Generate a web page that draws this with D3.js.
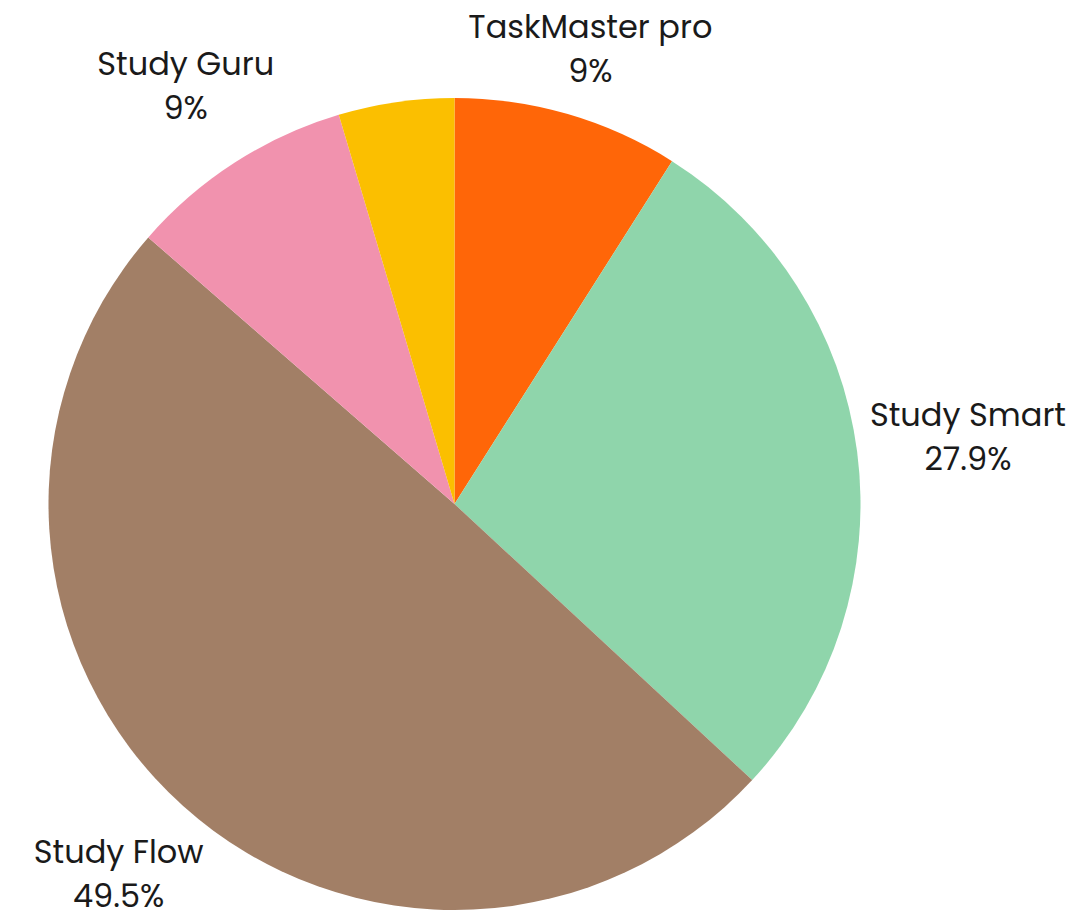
<!DOCTYPE html>
<html>
<head>
<meta charset="utf-8">
<script src="https://cdn.jsdelivr.net/npm/d3@7"></script>
<style>
  html, body { margin: 0; padding: 0; background: #ffffff; }
  svg { display: block; }
</style>
</head>
<body>
<svg id="chart" width="1088" height="911"></svg>
<script>
// ---- data ----
const categories = ["TaskMaster pro", "Study Smart", "Study Flow", "Study Guru", "Other"];
const shares = [9, 27.9, 49.5, 9, 4.6];
const colors = ["#FF6608", "#8FD5AB", "#A27F66", "#F192AE", "#FBBF00"];
const minLabelShare = 5; // slices below this share get no outside label

// ---- layout ----
const width = 1088, height = 911;
const cx = 454.5, cy = 504, radius = 406;
const fontSize = 32, lineGap = 44, capH = 22.5, labelGap = 15;
const pad = { top: 15, right: 22, bottom: 4, left: 15 };

const data = categories.map((c, i) => ({ name: c, value: shares[i], color: colors[i] }));

const svg = d3.select("#chart");
const g = svg.append("g").attr("transform", `translate(${cx},${cy})`);

const pie = d3.pie().sort(null).value(d => d.value).startAngle(0).endAngle(2 * Math.PI);
const arcs = pie(data);
const arc = d3.arc().innerRadius(0).outerRadius(radius);

g.selectAll("path.slice")
  .data(arcs)
  .join("path")
  .attr("class", "slice")
  .attr("d", arc)
  .attr("fill", d => d.data.color);

const fmt = d3.format(".1~f");

const labels = g.selectAll("g.label")
  .data(arcs.filter(d => d.data.value >= minLabelShare))
  .join("g")
  .attr("class", "label");

labels.each(function(d) {
  const sel = d3.select(this);
  const t1 = sel.append("text")
    .attr("text-anchor", "middle")
    .attr("font-family", "Poppins, 'Open Sans', sans-serif")
    .attr("font-size", fontSize)
    .attr("fill", "#1a1a1a")
    .text(d.data.name);
  const t2 = sel.append("text")
    .attr("text-anchor", "middle")
    .attr("font-family", "Poppins, 'Open Sans', sans-serif")
    .attr("font-size", fontSize)
    .attr("fill", "#1a1a1a")
    .text(fmt(d.data.value) + "%");
  const w = Math.max(t1.node().getComputedTextLength(), t2.node().getComputedTextLength());
  const h = capH + lineGap;
  const a = (d.startAngle + d.endAngle) / 2;
  const s = Math.sin(a), c = Math.cos(a);
  const r = radius + labelGap + (w / 2) * Math.abs(s) + (h / 2) * Math.abs(c);
  // centre of the label block, in page coordinates, kept inside the padded canvas
  let X = cx + r * s, Y = cy - r * c;
  X = Math.max(pad.left + w / 2, Math.min(width - pad.right - w / 2, X));
  Y = Math.max(pad.top + h / 2, Math.min(height - pad.bottom - h / 2, Y));
  const x = X - cx, y = Y - cy;
  t1.attr("x", x).attr("y", y - h / 2 + capH);
  t2.attr("x", x).attr("y", y + h / 2);
});
</script>
</body>
</html>
